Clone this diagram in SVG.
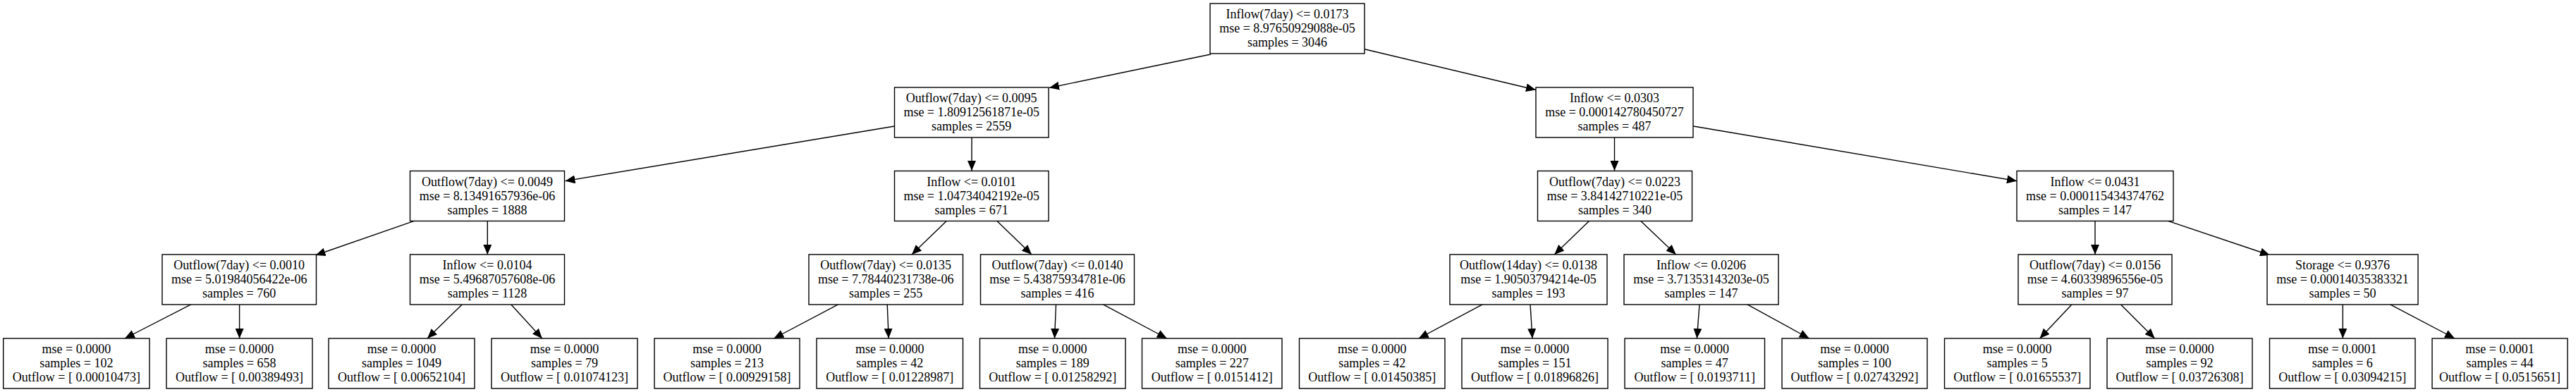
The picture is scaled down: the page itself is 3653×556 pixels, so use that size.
<svg xmlns="http://www.w3.org/2000/svg" width="3653" height="556" viewBox="0 0 3653 556">
<style>
.box{fill:#fff;stroke:#000;stroke-width:1.4}
text{font-family:"Liberation Serif","Times New Roman",serif;font-size:18px;fill:#000;text-anchor:middle}
.edge{stroke:#000;stroke-width:1.4;fill:none;marker-end:url(#arr)}
</style>
<defs>
<marker id="arr" markerUnits="userSpaceOnUse" markerWidth="14" markerHeight="12" refX="14" refY="6" orient="auto">
<path d="M0,0 L14,6 L0,12 z" fill="#000"/>
</marker>
</defs>
<rect width="3653" height="556" fill="#fff"/>
<g id="connectors">
<path class="edge" d="M1717,77 L1488,124.5"/>
<path class="edge" d="M1934,69.5 L2178,127.5"/>
<path class="edge" d="M1268.5,179 L801.5,256.7"/>
<path class="edge" d="M1378,195 L1378,242"/>
<path class="edge" d="M2289.5,195 L2289.5,242"/>
<path class="edge" d="M2401.5,179 L2860,256.7"/>
<path class="edge" d="M587.4,313.3 L447.5,362"/>
<path class="edge" d="M691.3,313.5 L691.3,361"/>
<path class="edge" d="M1342.5,313.3 L1293,361"/>
<path class="edge" d="M1413.6,313.3 L1463,361"/>
<path class="edge" d="M2253.8,313.3 L2204.3,361"/>
<path class="edge" d="M2326.5,313.3 L2376.7,361"/>
<path class="edge" d="M2971,313.5 L2971,361"/>
<path class="edge" d="M3074.4,313.3 L3219,362"/>
<path class="edge" d="M271.2,431.7 L177,480"/>
<path class="edge" d="M339.6,432 L339.6,480"/>
<path class="edge" d="M655.4,431.7 L606,480"/>
<path class="edge" d="M724.6,431.7 L768.8,480"/>
<path class="edge" d="M1189,431.7 L1097.4,480"/>
<path class="edge" d="M1258.2,431.7 L1260.2,480"/>
<path class="edge" d="M1497.5,431.7 L1495.5,480"/>
<path class="edge" d="M1563.9,431.7 L1654.8,480"/>
<path class="edge" d="M2102.7,431.7 L2011.8,480"/>
<path class="edge" d="M2170,431.7 L2173.1,480"/>
<path class="edge" d="M2410,431.7 L2406.4,480"/>
<path class="edge" d="M2477.4,431.7 L2565.6,480"/>
<path class="edge" d="M2938.1,431.7 L2892.6,480"/>
<path class="edge" d="M3007.3,431.7 L3055.6,480"/>
<path class="edge" d="M3322.3,432 L3322.3,480"/>
<path class="edge" d="M3389.1,431.7 L3481,480"/>
</g>
<g id="n0"><rect class="box" x="1716" y="5" width="219" height="71"/><text x="1825.5" y="26">Inflow(7day) &lt;= 0.0173</text><text x="1825.5" y="46">mse = 8.97650929088e-05</text><text x="1825.5" y="66">samples = 3046</text></g>
<g id="n1"><rect class="box" x="1268.5" y="124" width="218.5" height="71"/><text x="1377.7" y="145">Outflow(7day) &lt;= 0.0095</text><text x="1377.7" y="165">mse = 1.80912561871e-05</text><text x="1377.7" y="185">samples = 2559</text></g>
<g id="n2"><rect class="box" x="2178" y="124" width="223" height="71"/><text x="2289.5" y="145">Inflow &lt;= 0.0303</text><text x="2289.5" y="165">mse = 0.000142780450727</text><text x="2289.5" y="185">samples = 487</text></g>
<g id="n3"><rect class="box" x="581.5" y="242.5" width="219" height="71"/><text x="691" y="263.5">Outflow(7day) &lt;= 0.0049</text><text x="691" y="283.5">mse = 8.13491657936e-06</text><text x="691" y="303.5">samples = 1888</text></g>
<g id="n4"><rect class="box" x="1268.5" y="242.5" width="218.5" height="71"/><text x="1377.7" y="263.5">Inflow &lt;= 0.0101</text><text x="1377.7" y="283.5">mse = 1.04734042192e-05</text><text x="1377.7" y="303.5">samples = 671</text></g>
<g id="n5"><rect class="box" x="2180.5" y="242.5" width="219" height="71"/><text x="2290" y="263.5">Outflow(7day) &lt;= 0.0223</text><text x="2290" y="283.5">mse = 3.84142710221e-05</text><text x="2290" y="303.5">samples = 340</text></g>
<g id="n6"><rect class="box" x="2860" y="242.5" width="222" height="71"/><text x="2971" y="263.5">Inflow &lt;= 0.0431</text><text x="2971" y="283.5">mse = 0.000115434374762</text><text x="2971" y="303.5">samples = 147</text></g>
<g id="n7"><rect class="box" x="230" y="361" width="218.5" height="71"/><text x="339.2" y="382">Outflow(7day) &lt;= 0.0010</text><text x="339.2" y="402">mse = 5.01984056422e-06</text><text x="339.2" y="422">samples = 760</text></g>
<g id="n8"><rect class="box" x="581.5" y="361" width="219" height="71"/><text x="691" y="382">Inflow &lt;= 0.0104</text><text x="691" y="402">mse = 5.49687057608e-06</text><text x="691" y="422">samples = 1128</text></g>
<g id="n9"><rect class="box" x="1147" y="361" width="218.5" height="71"/><text x="1256.2" y="382">Outflow(7day) &lt;= 0.0135</text><text x="1256.2" y="402">mse = 7.78440231738e-06</text><text x="1256.2" y="422">samples = 255</text></g>
<g id="n10"><rect class="box" x="1390.5" y="361" width="218" height="71"/><text x="1499.5" y="382">Outflow(7day) &lt;= 0.0140</text><text x="1499.5" y="402">mse = 5.43875934781e-06</text><text x="1499.5" y="422">samples = 416</text></g>
<g id="n11"><rect class="box" x="2056" y="361" width="223" height="71"/><text x="2167.5" y="382">Outflow(14day) &lt;= 0.0138</text><text x="2167.5" y="402">mse = 1.90503794214e-05</text><text x="2167.5" y="422">samples = 193</text></g>
<g id="n12"><rect class="box" x="2303" y="361" width="219" height="71"/><text x="2412.5" y="382">Inflow &lt;= 0.0206</text><text x="2412.5" y="402">mse = 3.71353143203e-05</text><text x="2412.5" y="422">samples = 147</text></g>
<g id="n13"><rect class="box" x="2862" y="361" width="218" height="71"/><text x="2971" y="382">Outflow(7day) &lt;= 0.0156</text><text x="2971" y="402">mse = 4.60339896556e-05</text><text x="2971" y="422">samples = 97</text></g>
<g id="n14"><rect class="box" x="3215" y="361" width="214" height="71"/><text x="3322" y="382">Storage &lt;= 0.9376</text><text x="3322" y="402">mse = 0.00014035383321</text><text x="3322" y="422">samples = 50</text></g>
<g id="l0"><rect class="box" x="4.7" y="480" width="207.3" height="71"/><text x="108.4" y="501">mse = 0.0000</text><text x="108.4" y="521">samples = 102</text><text x="108.4" y="541">Outflow = [ 0.00010473]</text></g>
<g id="l1"><rect class="box" x="236" y="480" width="207" height="71"/><text x="339.5" y="501">mse = 0.0000</text><text x="339.5" y="521">samples = 658</text><text x="339.5" y="541">Outflow = [ 0.00389493]</text></g>
<g id="l2"><rect class="box" x="466" y="480" width="207" height="71"/><text x="569.5" y="501">mse = 0.0000</text><text x="569.5" y="521">samples = 1049</text><text x="569.5" y="541">Outflow = [ 0.00652104]</text></g>
<g id="l3"><rect class="box" x="697" y="480" width="207" height="71"/><text x="800.5" y="501">mse = 0.0000</text><text x="800.5" y="521">samples = 79</text><text x="800.5" y="541">Outflow = [ 0.01074123]</text></g>
<g id="l4"><rect class="box" x="928" y="480" width="206" height="71"/><text x="1031" y="501">mse = 0.0000</text><text x="1031" y="521">samples = 213</text><text x="1031" y="541">Outflow = [ 0.00929158]</text></g>
<g id="l5"><rect class="box" x="1158" y="480" width="207.5" height="71"/><text x="1261.8" y="501">mse = 0.0000</text><text x="1261.8" y="521">samples = 42</text><text x="1261.8" y="541">Outflow = [ 0.01228987]</text></g>
<g id="l6"><rect class="box" x="1389.5" y="480" width="206.5" height="71"/><text x="1492.8" y="501">mse = 0.0000</text><text x="1492.8" y="521">samples = 189</text><text x="1492.8" y="541">Outflow = [ 0.01258292]</text></g>
<g id="l7"><rect class="box" x="1619.5" y="480" width="198.5" height="71"/><text x="1718.8" y="501">mse = 0.0000</text><text x="1718.8" y="521">samples = 227</text><text x="1718.8" y="541">Outflow = [ 0.0151412]</text></g>
<g id="l8"><rect class="box" x="1842.5" y="480" width="206.5" height="71"/><text x="1945.8" y="501">mse = 0.0000</text><text x="1945.8" y="521">samples = 42</text><text x="1945.8" y="541">Outflow = [ 0.01450385]</text></g>
<g id="l9"><rect class="box" x="2073" y="480" width="207" height="71"/><text x="2176.5" y="501">mse = 0.0000</text><text x="2176.5" y="521">samples = 151</text><text x="2176.5" y="541">Outflow = [ 0.01896826]</text></g>
<g id="l10"><rect class="box" x="2304" y="480" width="198.5" height="71"/><text x="2403.2" y="501">mse = 0.0000</text><text x="2403.2" y="521">samples = 47</text><text x="2403.2" y="541">Outflow = [ 0.0193711]</text></g>
<g id="l11"><rect class="box" x="2527" y="480" width="206" height="71"/><text x="2630" y="501">mse = 0.0000</text><text x="2630" y="521">samples = 100</text><text x="2630" y="541">Outflow = [ 0.02743292]</text></g>
<g id="l12"><rect class="box" x="2757.5" y="480" width="206.5" height="71"/><text x="2860.7" y="501">mse = 0.0000</text><text x="2860.7" y="521">samples = 5</text><text x="2860.7" y="541">Outflow = [ 0.01655537]</text></g>
<g id="l13"><rect class="box" x="2988" y="480" width="206" height="71"/><text x="3091" y="501">mse = 0.0000</text><text x="3091" y="521">samples = 92</text><text x="3091" y="541">Outflow = [ 0.03726308]</text></g>
<g id="l14"><rect class="box" x="3218.5" y="480" width="206.5" height="71"/><text x="3321.8" y="501">mse = 0.0001</text><text x="3321.8" y="521">samples = 6</text><text x="3321.8" y="541">Outflow = [ 0.03094215]</text></g>
<g id="l15"><rect class="box" x="3449" y="480" width="192" height="71"/><text x="3545" y="501">mse = 0.0001</text><text x="3545" y="521">samples = 44</text><text x="3545" y="541">Outflow = [ 0.0515651]</text></g>
</svg>
